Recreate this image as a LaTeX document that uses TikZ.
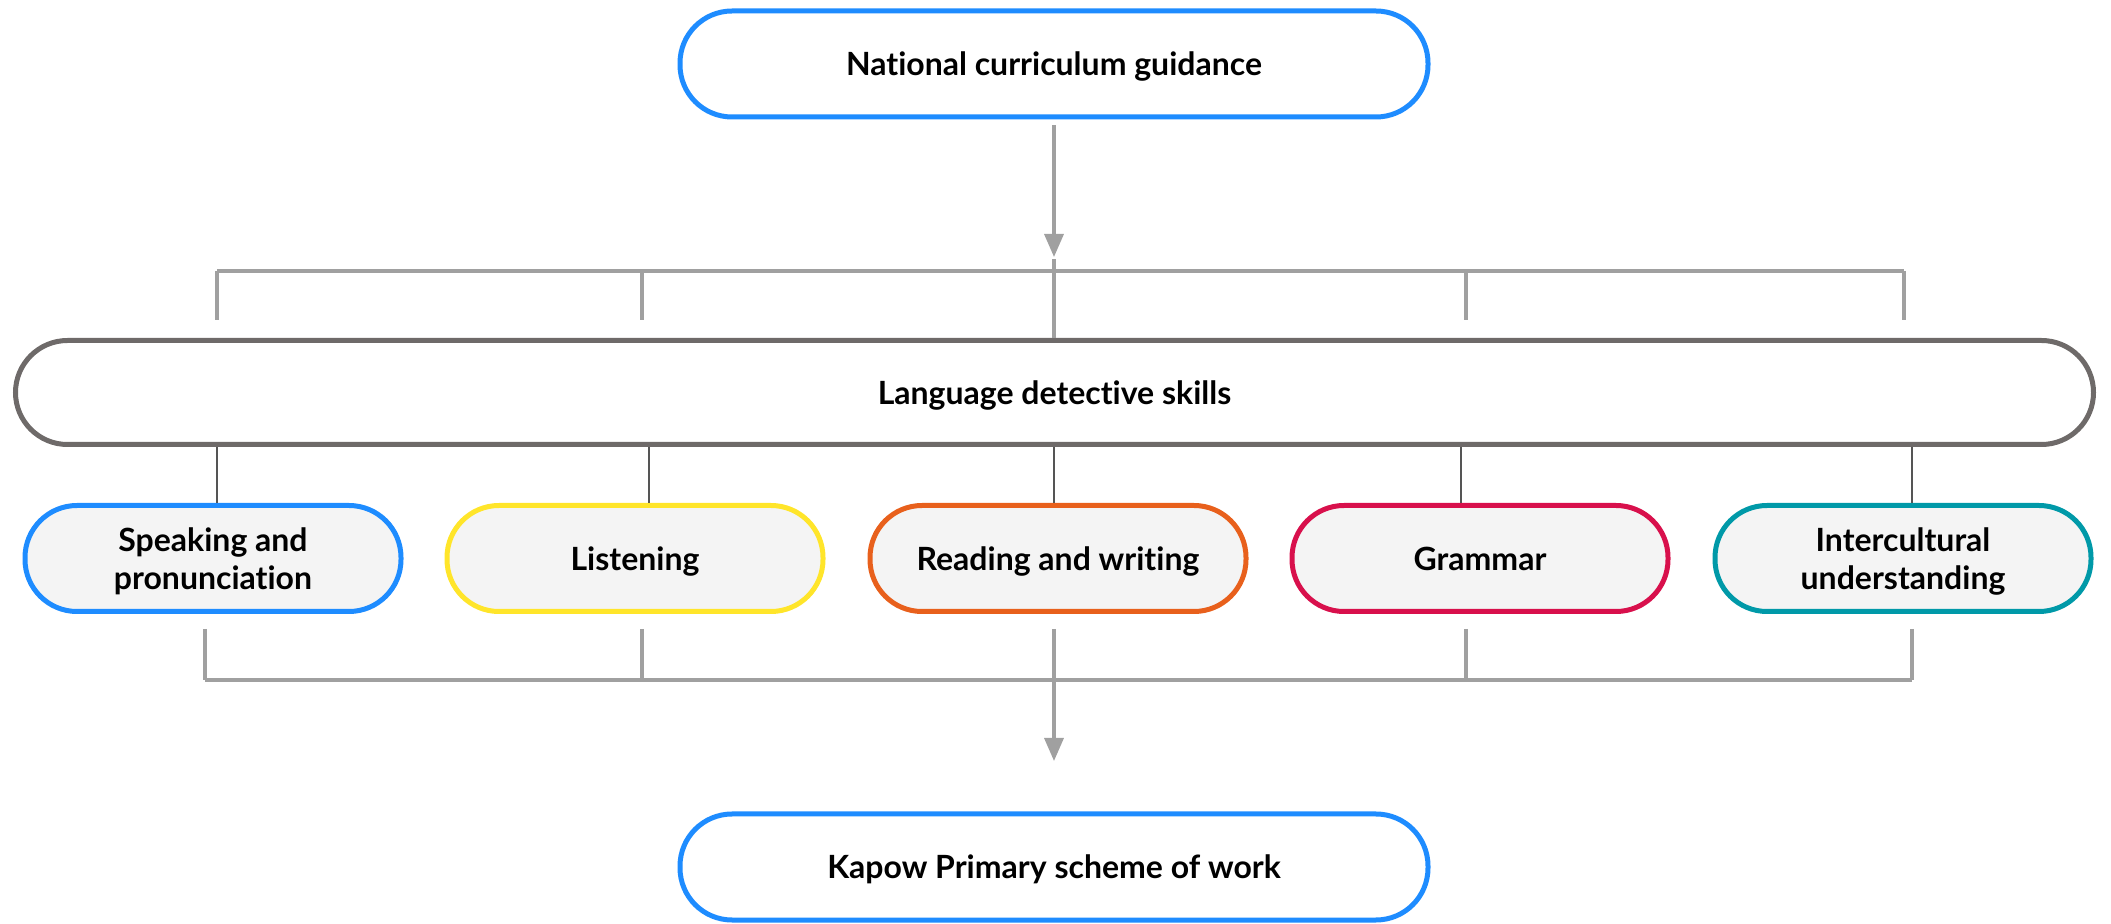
\documentclass[tikz,border=0pt]{standalone}
\usepackage{fontspec}
\setmainfont[Ligatures={NoCommon}]{Lato}
\usetikzlibrary{arrows.meta}
\definecolor{kblue}{HTML}{1E8CFF}
\definecolor{kyellow}{HTML}{FFE52A}
\definecolor{korange}{HTML}{E8601C}
\definecolor{kred}{HTML}{D8104C}
\definecolor{kteal}{HTML}{0099A8}
\definecolor{kgrayb}{HTML}{6E6A69}
\definecolor{kconn}{HTML}{A0A0A0}
\definecolor{kthin}{HTML}{555555}
\definecolor{kfill}{HTML}{F4F4F4}
\newcommand{\twoline}[2]{\begin{tabular}{@{}c@{}}\rule{0pt}{17.3pt}#1\\#2\end{tabular}}
\begin{document}
\begin{tikzpicture}[x=0.5pt,y=-0.5pt,
  pill/.style={draw, line width=2.5pt, rounded corners=26pt, minimum height=53pt,
    inner sep=0pt, align=center, font=\fontsize{16}{19}\selectfont\bfseries},
  oneline/.style={text height=11.6pt, text depth=0pt},
  endbox/.style={pill, oneline, draw=kblue, fill=white, minimum width=374pt},
  skill/.style={pill, fill=kfill, minimum width=188pt},
  conn/.style={draw=kconn, line width=1.7pt},
  thin/.style={draw=kthin, line width=0.7pt},
  arr/.style={conn, -{Triangle[length=11.5pt,width=9.5pt]}}
]
\useasboundingbox (0,0) rectangle (2111,924);

\node[endbox] (top) at (1054,64) {National curriculum guidance};
\node[pill, oneline, draw=kgrayb, fill=white, minimum width=1039pt, minimum height=52pt] (lds) at (1054.5,392.5) {Language detective skills};

\node[skill, draw=kblue]   (s1) at (213,558.5)  {\twoline{Speaking and}{pronunciation}};
\node[skill, oneline, draw=kyellow] (s2) at (635,558.5)  {Listening};
\node[skill, oneline, draw=korange] (s3) at (1058,558.5) {Reading and writing};
\node[skill, oneline, draw=kred]    (s4) at (1480,558.5) {Grammar};
\node[skill, draw=kteal]   (s5) at (1903,558.5) {\twoline{Intercultural}{understanding}};

\node[endbox] (bot) at (1054,867) {Kapow Primary scheme of work};

% top distribution
\coordinate (a0) at (1054,125);
\coordinate (a1) at (1054,257);
\coordinate (tb1) at (217,271);
\coordinate (tb2) at (642,271);
\coordinate (tb3) at (1054,271);
\coordinate (tb4) at (1466,271);
\coordinate (tb5) at (1904,271);
\coordinate (te1) at (217,320);
\coordinate (te2) at (642,320);
\coordinate (te4) at (1466,320);
\coordinate (te5) at (1904,320);
\coordinate (c0) at (1054,259);
\draw[arr] (a0) -- (a1);
\draw[conn] (tb1) -- (tb5);
\draw[conn] (tb1) -- (te1);
\draw[conn] (tb2) -- (te2);
\draw[conn] (tb4) -- (te4);
\draw[conn] (tb5) -- (te5);
\draw[conn] (c0) -- (lds.north -| c0);

% thin connectors
\coordinate (m1) at (217,0);
\coordinate (m2) at (649,0);
\coordinate (m3) at (1054,0);
\coordinate (m4) at (1461,0);
\coordinate (m5) at (1912,0);
\draw[thin] (lds.south -| m1) -- (s1.north -| m1);
\draw[thin] (lds.south -| m2) -- (s2.north -| m2);
\draw[thin] (lds.south -| m3) -- (s3.north -| m3);
\draw[thin] (lds.south -| m4) -- (s4.north -| m4);
\draw[thin] (lds.south -| m5) -- (s5.north -| m5);

% bottom collection
\coordinate (bs1) at (205,629);
\coordinate (bs2) at (642,629);
\coordinate (bs3) at (1054,629);
\coordinate (bs4) at (1466,629);
\coordinate (bs5) at (1912,629);
\coordinate (bb1) at (205,680);
\coordinate (bb2) at (642,680);
\coordinate (bb3) at (1054,680);
\coordinate (bb4) at (1466,680);
\coordinate (bb5) at (1912,680);
\coordinate (b1) at (1054,761);
\draw[conn] (bb1) -- (bb5);
\draw[conn] (bs1) -- (bb1);
\draw[conn] (bs2) -- (bb2);
\draw[conn] (bs4) -- (bb4);
\draw[conn] (bs5) -- (bb5);
\draw[arr] (bs3) -- (b1);
\end{tikzpicture}
\end{document}
